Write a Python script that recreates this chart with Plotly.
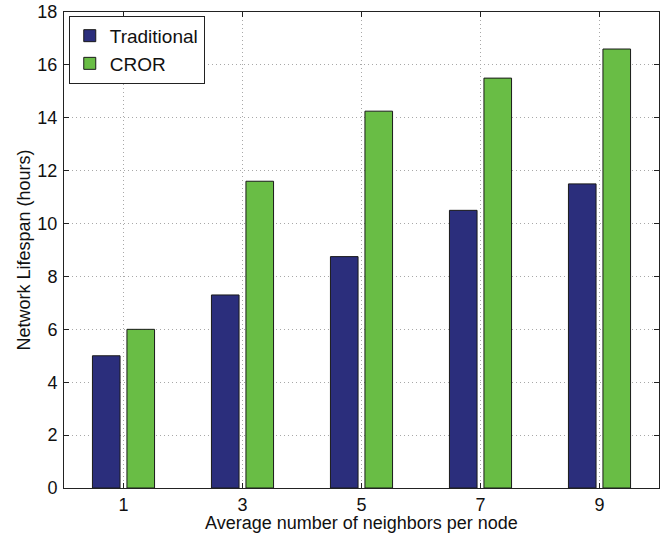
import plotly.graph_objects as go

categories = [1, 3, 5, 7, 9]
traditional = [5.0, 7.3, 8.75, 10.5, 11.5]
cror = [6.0, 11.6, 14.25, 15.5, 16.6]
y_ticks = list(range(0, 19, 2))

font = "Liberation Sans, Arial, sans-serif"

fig = go.Figure()
fig.add_trace(go.Bar(x=categories, y=traditional, name="Traditional",
                     marker=dict(color="#2B2E7C", line=dict(color="#1a1a1a", width=1))))
fig.add_trace(go.Bar(x=categories, y=cror, name="CROR",
                     marker=dict(color="#69BD45", line=dict(color="#1a1a1a", width=1))))

axis_common = dict(showline=True, linecolor="#222", linewidth=1, mirror="ticks",
                   ticks="inside", ticklen=5, tickcolor="#222",
                   showgrid=True, gridcolor="#a8a8a8", griddash="1px,3px", gridwidth=1,
                   zeroline=False, automargin=False,
                   tickfont=dict(size=18, color="#111", family=font))

fig.update_layout(
    width=670, height=537,
    margin=dict(l=64, r=11, t=12, b=49),
    paper_bgcolor="white", plot_bgcolor="white",
    barmode="group", bargap=0.42, bargroupgap=0.2,
    font=dict(family=font, color="#111"),
    xaxis=dict(range=[0, 10], tickvals=categories, ticktext=[str(c) for c in categories],
               ticklabelstandoff=0,
               **axis_common),
    yaxis=dict(range=[0, 18], tickvals=y_ticks,
               title=dict(text="Network Lifespan (hours)", font=dict(size=18), standoff=2),
               ticklabelstandoff=2,
               **axis_common),
    legend=dict(x=0.008, y=0.992, xanchor="left", yanchor="top",
                bgcolor="white", bordercolor="#222", borderwidth=1,
                font=dict(size=19, color="#111"), itemwidth=30,
                tracegroupgap=0, valign="middle"),
    showlegend=True,
    annotations=[dict(text="Average number of neighbors per node", xref="paper", yref="paper",
                      x=0.5, y=-0.073, xanchor="center", yanchor="middle", showarrow=False,
                      font=dict(size=18, color="#111", family=font))],
)

fig.write_html("out.html", config={"displayModeBar": False},
               post_script="document.body.style.margin='0';document.body.style.padding='0';")
